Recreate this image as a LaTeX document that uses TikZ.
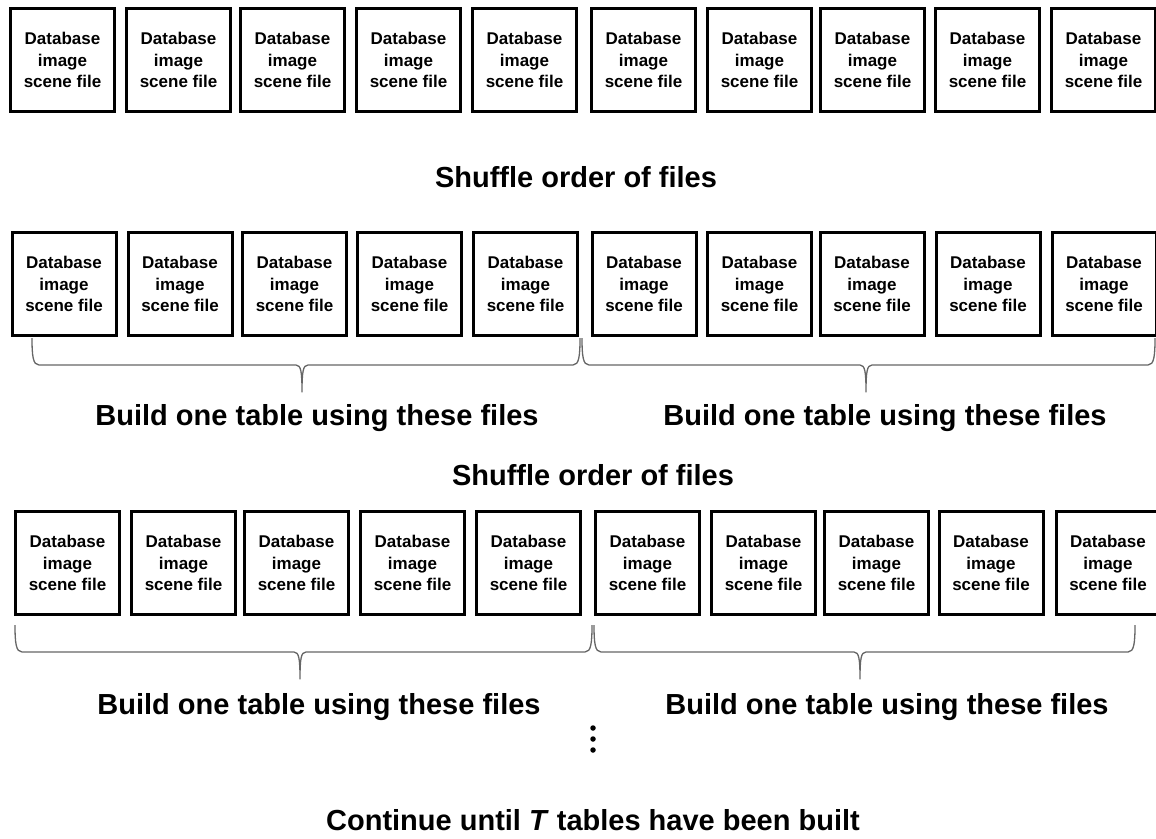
\documentclass[tikz,border=0pt]{standalone}
\usepackage{fontspec}
\setmainfont{Liberation Sans}
\usetikzlibrary{positioning}
\tikzset{
  dbfile/.style  ={rectangle, draw=black, line width=3pt, fill=white,
                   minimum width=104pt, minimum height=103pt, inner sep=0pt,
                   align=center, font=\fontsize{17}{21.5}\selectfont\bfseries},
  headline/.style={inner sep=0pt, font=\fontsize{29}{34}\selectfont\bfseries},
  tbrace/.style  ={draw=black!60, line width=1.3pt, line join=round},
  gapdot/.style  ={circle, fill=black, inner sep=0pt, minimum size=5.5pt},
}
% brace under a group of files: left end, tip, right end, top
\newcommand\tablebrace[4]{%
  \draw[tbrace] (#1,#4) .. controls (#1,#4+18) and (#1+1,#4+27) .. (#1+7,#4+27)
    -- (#2-6,#4+27) .. controls (#2-1,#4+27) and (#2,#4+34) .. (#2,#4+54)
    .. controls (#2,#4+34) and (#2+1,#4+27) .. (#2+6,#4+27)
    -- (#3-7,#4+27) .. controls (#3-1,#4+27) and (#3,#4+18) .. (#3,#4);}

\begin{document}
\begin{tikzpicture}[x=1pt, y=-1pt]
  \useasboundingbox (0,0) rectangle (1156,838);
  % first row of files
  \foreach \x [count=\i] in {62.5,178.5,292.5,408.5,524.5,643.5,759.5,872.5,987.5,1103.5}
    \node[dbfile] (a\i) at (\x,60) {Database\\image\\scene file};
  \node[headline] (shuf1) at (576,177) {Shuffle order of files};
  % second row
  \foreach \x [count=\i] in {64,180,294.5,409.5,525.5,644,759.5,872,988,1104}
    \node[dbfile] (b\i) at (\x,284) {Database\\image\\scene file};
  \tablebrace{32}{302}{580}{338}
  \tablebrace{582}{866}{1155}{338}
  \node[headline] (build1) at (317,418) {Build one table using these files};
  \node[headline] (build2) at (885,418) {Build one table using these files};
  \node[headline] (shuf2) at (593,475) {Shuffle order of files};
  % third row
  \foreach \x [count=\i] in {67.5,183.5,296.5,412.5,528.5,647.5,763.5,876.5,991,1108}
    \node[dbfile] (c\i) at (\x,563) {Database\\image\\scene file};
  \tablebrace{15}{300}{592}{625}
  \tablebrace{594}{860}{1135}{625}
  \node[headline] (build3) at (319,707) {Build one table using these files};
  \node[headline] (build4) at (887,707) {Build one table using these files};
  \foreach \y [count=\k] in {728,739,750}
    \node[gapdot] (dot\k) at (593,\y) {};
  \node[headline] (cont) at (593,820) {Continue until \textit{T} tables have been built};
\end{tikzpicture}
\end{document}
